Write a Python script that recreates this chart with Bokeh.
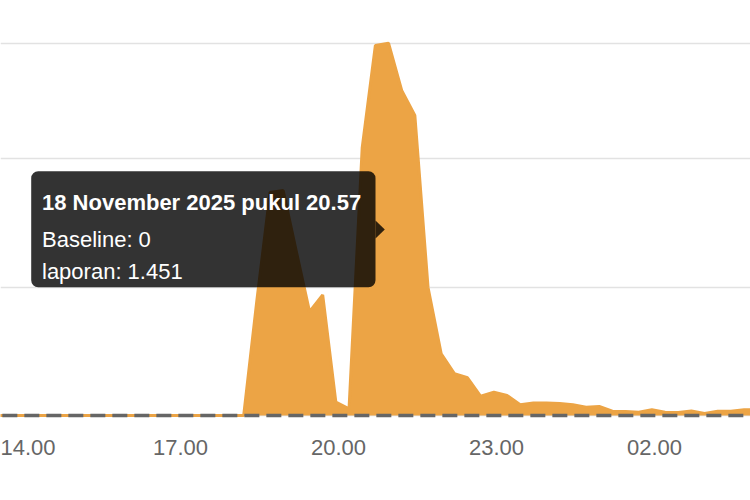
import numpy as np
import pandas as pd
from bokeh.plotting import figure
from bokeh.models import (Range1d, FixedTicker, BoxAnnotation, Label, Grid,
                          DatetimeTickFormatter)
from bokeh.embed import file_html
from bokeh.resources import INLINE

# ---------------- data (15-minute samples, 18-19 Nov 2025) ----------------
first_sample = "2025-11-18 13:12"
reports = [0, 0, 0, 0, 0, 0, 0, 0, 0, 0,
           0, 0, 0, 0, 0, 0, 0, 0, 0, 0,
           0, 448, 869, 877, 639, 405, 470, 52, 26, 1044,
           1442, 1451, 1267, 1169, 499, 240, 163, 147, 75, 91,
           78, 42, 49, 49, 47, 42, 32, 35, 17, 16,
           13, 22, 13, 12, 18, 8, 17, 17, 22, 23]
baseline = [0] * len(reports)
tick_times = ["2025-11-18 14:00", "2025-11-18 17:00", "2025-11-18 20:00",
              "2025-11-18 23:00", "2025-11-19 02:00"]
grid_values = [0, 500, 1000, 1451]
tip_time = "2025-11-18 20:57"
tip_title = "18 November 2025 pukul 20.57"
tip_lines = ["Baseline: 0", "laporan: 1.451"]

ORANGE = "#eca445"

EPOCH = pd.Timestamp("1970-01-01")


def to_ms(ts):
    return (pd.Timestamp(ts) - EPOCH) / pd.Timedelta(milliseconds=1)


times = pd.date_range(first_sample, periods=len(reports), freq="15min")
x_ms = [to_ms(t) for t in times]

# ---------------- view geometry ----------------
W, FH = 750, 425
PX_PER_H = 52.67
X_AT_20 = 338.0
ref = to_ms("2025-11-18 20:00")
hour_ms = 3600 * 1000.0
x_start = ref - X_AT_20 / PX_PER_H * hour_ms
x_end = ref + (W - X_AT_20) / PX_PER_H * hour_ms
y_top, y_bot = 1617.3, -39.0


def px_x(px):
    return x_start + px / W * (x_end - x_start)


def px_y(py):
    return y_top - py / FH * (y_top - y_bot)


p = figure(frame_width=W, frame_height=FH, x_axis_type="datetime",
           y_axis_location=None, output_backend="svg", toolbar_location=None,
           min_border_left=0, min_border_right=0, min_border_top=0,
           min_border_bottom=55, outline_line_color=None,
           x_range=Range1d(x_start, x_end), y_range=Range1d(y_bot, y_top))
p.margin = (0, 0, 0, 0)

p.xgrid.grid_line_color = None
p.ygrid.grid_line_color = None
p.add_layout(Grid(dimension=1, ticker=FixedTicker(ticks=grid_values),
                  grid_line_color="#e2e2e2", grid_line_width=1.5))

p.varea(x=x_ms, y1=baseline, y2=reports, fill_color=ORANGE)
p.line(x=x_ms, y=reports, line_color=ORANGE, line_width=3)
p.line(x=x_ms, y=baseline, line_color="#666666", line_width=3.5,
       line_dash="15 7")

ax = p.xaxis[0]
ax.ticker = FixedTicker(ticks=[to_ms(t) for t in tick_times])
fmt = "%H.%M"
ax.formatter = DatetimeTickFormatter(hours=fmt, hourmin=fmt, minutes=fmt,
                                     minsec=fmt, days=fmt, months=fmt,
                                     years=fmt, seconds=fmt)
ax.axis_line_color = None
ax.major_tick_line_color = None
ax.minor_tick_line_color = None
ax.major_label_standoff = 8
ax.major_label_text_font = "Liberation Sans"
ax.major_label_text_font_size = "22px"
ax.major_label_text_color = "#666666"

# ---------------- tooltip ----------------
box = BoxAnnotation(left=px_x(30.7), right=px_x(375), top=px_y(170.7),
                    bottom=px_y(286.7), fill_color="black", fill_alpha=0.8,
                    line_alpha=0, border_radius=7)
p.add_layout(box)
p.patch(x=[px_x(375), px_x(384.3), px_x(375)],
        y=[px_y(220), px_y(229), px_y(238)],
        fill_color="black", fill_alpha=0.8, line_alpha=0)

p.add_layout(Label(x=px_x(41.5), y=px_y(201.7), text=tip_title,
                   text_font="Liberation Sans", text_font_style="bold",
                   text_font_size="22px", text_color="white",
                   text_baseline="alphabetic"))
for txt, base in zip(tip_lines, [239.3, 270.5]):
    p.add_layout(Label(x=px_x(41.5), y=px_y(base), text=txt,
                       text_font="Liberation Sans", text_font_size="22px",
                       text_color="white", text_baseline="alphabetic"))

open("out.html", "w").write(file_html(p, INLINE))
